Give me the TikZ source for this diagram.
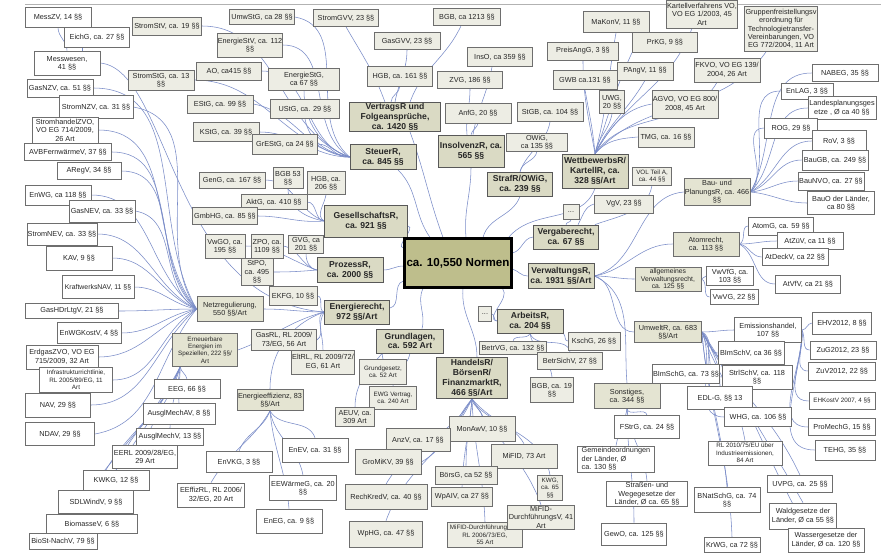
\documentclass[tikz,border=0pt]{standalone}
\usepackage{fontspec}
\setmainfont{Liberation Sans}
\pgfdeclarelayer{bg}
\pgfsetlayers{bg,main}
\definecolor{bordc}{RGB}{110,110,110}
\definecolor{lightc}{RGB}{237,237,228}
\definecolor{secc}{RGB}{228,228,210}
\definecolor{mainc}{RGB}{218,218,196}
\definecolor{rootc}{RGB}{190,190,140}
\definecolor{linkc}{RGB}{122,140,200}
\tikzset{
 base/.style={draw=bordc, line width=0.7pt, inner sep=0.4pt, align=center, font=\fontsize{7.3}{8.4}\selectfont, text=black!85},
 wb/.style={base, fill=white},
 lb/.style={base, fill=lightc},
 sc/.style={base, fill=secc},
 mc/.style={base, fill=mainc, draw=bordc!80!black, font=\fontsize{8.6}{9.8}\selectfont\bfseries},
 rootst/.style={draw=black, line width=2.2pt, fill=rootc, font=\fontsize{11.6}{13}\selectfont\bfseries, inner sep=0pt},
 link/.style={draw=linkc, line width=0.55pt},
 sm/.style={font=\fontsize{6.3}{7.4}\selectfont},
}
\newcommand{\nd}[7]{\node[#6,minimum width=#4pt,minimum height=#5pt] (#1) at (#2,#3) {#7};}
\begin{document}
\begin{tikzpicture}[x=1pt,y=-1pt]
\useasboundingbox (0,0) rectangle (881,555);
% ---------- Energie (left)
\nd{messzv}{58}{17}{66}{20}{wb}{MessZV, 14 §§}
\nd{eichg}{97}{37}{65}{20}{wb}{EichG, ca. 27 §§}
\nd{messw}{67}{63}{66}{24}{wb}{Messwesen,\\41 §§}
\nd{gasnzv}{60}{88}{66}{18}{wb}{GasNZV, ca. 51 §§}
\nd{stromnzv}{96}{107}{74}{23}{wb}{StromNZV, ca. 31 §§}
\nd{shzvo}{65}{130}{66}{26}{wb}{StromhandelZVO,\\VO EG 714/2009,\\26 Art}
\nd{avb}{68}{152}{87}{17}{wb}{AVBFernwärmeV, 37 §§}
\nd{aregv}{89}{171}{64}{17}{wb}{ARegV, 34 §§}
\nd{enwg}{58}{195}{66}{20}{wb}{EnWG, ca 118 §§}
\nd{gasnev}{102}{211}{66}{22}{wb}{GasNEV, ca. 33 §§}
\nd{stromnev}{62}{234}{70}{22}{wb}{StromNEV, ca. 33 §§}
\nd{kav}{79}{258}{66}{24}{wb}{KAV, 9 §§}
\nd{kwnav}{98}{287}{72}{23}{wb,font=\fontsize{6.9}{8}\selectfont}{KraftwerksNAV, 11 §§}
\nd{gashdr}{72}{311}{93}{15}{wb}{GasHDrLtgV, 21 §§}
\nd{enwgk}{89}{333}{64}{21}{wb}{EnWGKostV, 4 §§}
\nd{erdgas}{62}{357}{72}{24}{wb}{ErdgasZVO, VO EG\\715/2009, 32 Art}
\nd{infra}{76}{380}{73}{25}{wb,sm}{Infrastrukturrichtlinie,\\RL 2005/89/EG, 11\\Art}
\nd{nav}{58}{405}{65}{24}{wb}{NAV, 29 §§}
\nd{ndav}{60}{434}{69}{23}{wb}{NDAV, 29 §§}
\nd{eeg}{187}{389}{66}{19}{wb}{EEG, 66 §§}
\nd{amav}{179}{414}{72}{21}{wb}{AusglMechAV, 8 §§}
\nd{amv}{170}{437}{67}{17}{wb}{AusglMechV, 13 §§}
\nd{eerl}{145}{457}{65}{23}{wb}{EERL 2009/28/EG,\\29 Art}
\nd{kwkg}{116}{480}{66}{20}{wb}{KWKG, 12 §§}
\nd{sdl}{96}{502}{75}{23}{wb}{SDLWindV, 9 §§}
\nd{bio}{92}{524}{91}{19}{wb}{BiomasseV, 6 §§}
\nd{biost}{63}{541}{68}{16}{wb}{BioSt-NachV, 79 §§}
\nd{netz}{230}{309}{66}{25}{sc}{Netzregulierung,\\550 §§/Art}
\nd{ee}{205}{350}{65}{33}{sc,sm}{Erneuerbare\\Energien im\\Speziellen, 222 §§/\\Art}
\nd{eeff}{270}{400}{66}{21}{sc}{Energieeffizienz, 83\\§§/Art}
\nd{envkg}{239}{462}{66}{21}{wb}{EnVKG, 3 §§}
\nd{enev}{315}{450}{66}{24}{wb}{EnEV, ca. 31 §§}
\nd{eew}{303}{488}{67}{25}{wb}{EEWärmeG, ca. 20\\§§}
\nd{eeffrl}{211}{495}{67}{24}{wb}{EEffizRL, RL 2006/\\32/EG, 20 Art}
\nd{eneg}{289}{521}{66}{24}{wb}{EnEG, ca. 9 §§}
% ---------- Steuer
\nd{stromstv}{167}{26}{69}{18}{lb}{StromStV, ca. 19 §§}
\nd{umwstg}{262}{17}{65}{15}{lb}{UmwStG, ca 28 §§}
\nd{energiestv}{250}{45}{63}{24}{lb}{EnergieStV, ca. 112\\§§}
\nd{ao}{229}{71}{65}{18}{lb}{AO, ca415 §§}
\nd{stromstg}{161}{80}{66}{20}{lb}{StromStG, ca. 13\\§§}
\nd{energiestg}{304}{79}{71}{22}{lb}{EnergieStG,\\ca 67 §§}
\nd{estg}{220}{104}{66}{18}{lb}{EStG, ca. 99 §§}
\nd{ustg}{305}{109}{69}{19}{lb}{UStG, ca. 29 §§}
\nd{kstg}{226}{132}{66}{19}{lb}{KStG, ca. 39 §§}
\nd{grestg}{285}{144}{65}{20}{lb}{GrEStG, ca 24 §§}
\nd{steuer}{383}{157}{66}{25}{mc}{SteuerR,\\ca. 845 §§}
% ---------- Vertrag
\nd{stromgvv}{346}{18}{65}{17}{lb}{StromGVV, 23 §§}
\nd{gasgvv}{407}{41}{66}{17}{lb}{GasGVV, 23 §§}
\nd{hgbA}{400}{76}{65}{20}{lb}{HGB, ca. 161 §§}
\nd{bgbA}{467}{17}{67}{17}{lb}{BGB, ca 1213 §§}
\nd{vertrag}{395}{117}{91}{29}{mc}{VertragsR und\\Folgeansprüche,\\ca. 1420 §§}
% ---------- Insolvenz / Straf
\nd{zvg}{470}{80}{65}{17}{lb}{ZVG, 186 §§}
\nd{inso}{500}{57}{65}{19}{lb}{InsO, ca 359 §§}
\nd{anfg}{478}{113}{66}{20}{lb}{AnfG, 20 §§}
\nd{insolvenz}{471}{151}{66}{32}{mc}{InsolvenzR, ca.\\565 §§}
\nd{stgb}{550}{112}{66}{19}{lb}{StGB, ca. 104 §§}
\nd{owig}{537}{142}{61}{18}{lb}{OWiG,\\ca 135 §§}
\nd{straf}{520}{184}{65}{24}{mc}{StrafR/OWiG,\\ca. 239 §§}
% ---------- Wettbewerb
\nd{preisang}{583}{51}{71}{18}{lb}{PreisAngG, 3 §§}
\nd{makonv}{616}{22}{66}{21}{lb}{MaKonV, 11 §§}
\nd{prkg}{665}{42}{65}{20}{lb}{PrKG, 9 §§}
\nd{gwb}{585}{80}{64}{19}{lb}{GWB ca.131 §§}
\nd{pangv}{645}{71}{56}{18}{lb}{PAngV, 11 §§}
\nd{uwg}{612}{102}{25}{23}{lb}{UWG,\\20 §§}
\nd{agvo}{685}{104}{66}{28}{lb}{AGVO, VO EG 800/\\2008, 45 Art}
\nd{tmg}{666}{137}{56}{20}{lb}{TMG, ca. 16 §§}
\nd{wettb}{595}{171}{66}{34}{mc}{WettbewerbsR/\\KartellR, ca.\\328 §§/Art}
\nd{vol}{652}{176}{39}{18}{lb,sm}{VOL Teil A,\\ca. 44 §§}
\nd{kvo}{702}{14}{70}{28}{lb}{Kartellverfahrens VO,\\VO EG 1/2003, 45\\Art}
\nd{gfvo}{781}{29}{73}{45}{lb}{Gruppenfreistellungsv\\erordnung für\\Technologietransfer-\\Vereinbarungen, VO\\EG 772/2004, 11 Art}
\nd{fkvo}{727}{70}{66}{24}{lb}{FKVO, VO EG 139/\\2004, 26 Art}
% ---------- Bau
\nd{nabeg}{845}{73}{66}{17}{wb}{NABEG, 35 §§}
\nd{enlag}{807}{91}{52}{16}{wb}{EnLAG, 3 §§}
\nd{landes}{842}{108}{68}{23}{wb}{Landesplanungsges\\etze , Ø ca 40 §§}
\nd{rog}{791}{128}{53}{20}{wb}{ROG, 29 §§}
\nd{rov}{839}{141}{54}{21}{wb}{RoV, 3 §§}
\nd{baugb}{835}{160}{66}{20}{wb}{BauGB, ca. 249 §§}
\nd{baunvo}{831}{181}{66}{18}{wb}{BauNVO, ca. 27 §§}
\nd{bauo}{841}{203}{67}{23}{wb}{BauO der Länder,\\ca 80 §§}
\nd{bau}{717}{192}{66}{27}{sc}{Bau- und\\PlanungsR, ca. 466\\§§}
% ---------- Atom
\nd{atomg}{781}{226}{65}{18}{wb}{AtomG, ca. 59 §§}
\nd{atzuv}{810}{241}{66}{17}{wb}{AtZüV, ca 11 §§}
\nd{atdeckv}{795}{257}{66}{17}{wb}{AtDeckV, ca 22 §§}
\nd{atvfv}{808}{284}{65}{18}{wb}{AtVfV, ca 21 §§}
\nd{atom}{706}{244}{66}{24}{sc}{Atomrecht,\\ca. 113 §§}
% ---------- Vergabe / Verwaltung
\nd{vgv}{624}{204}{59}{18}{lb}{VgV, 23 §§}
\nd{dotsA}{571}{212}{16}{15}{lb}{...}
\nd{vergabe}{566}{237}{65}{24}{mc}{Vergaberecht,\\ca. 67 §§}
\nd{verwalt}{561}{276}{66}{25}{mc}{VerwaltungsR,\\ca. 1931 §§/Art}
\nd{allg}{668}{279}{66}{24}{sc,font=\fontsize{6.8}{7.6}\selectfont}{allgemeines\\Verwaltungsrecht,\\ca. 125 §§}
\nd{vwvfg}{730}{276}{47}{19}{wb}{VwVfG, ca.\\103 §§}
\nd{vwvg}{734}{297}{48}{15}{wb}{VwVG, 22 §§}
% ---------- Umwelt
\nd{umwelt}{668}{332}{67}{21}{sc}{UmweltR, ca. 683\\§§/Art}
\nd{emiss}{768}{330}{67}{25}{wb}{Emissionshandel,\\107 §§}
\nd{ehv}{842}{323}{59}{22}{wb}{EHV2012, 8 §§}
\nd{zug}{843}{350}{66}{18}{wb}{ZuG2012, 23 §§}
\nd{zuv}{842}{371}{67}{18}{wb}{ZuV2012, 22 §§}
\nd{ehkost}{842}{401}{66}{17}{wb,sm}{EHKostV 2007, 4 §§}
\nd{promech}{842}{427}{67}{17}{wb}{ProMechG, 15 §§}
\nd{tehg}{845}{450}{60}{20}{wb}{TEHG, 35 §§}
\nd{bimschv}{751}{353}{66}{23}{wb}{BImSchV, ca 36 §§}
\nd{bimschg}{686}{374}{66}{19}{wb}{BImSchG, ca. 73 §§}
\nd{strlschv}{757}{377}{70}{24}{wb}{StrlSchV, ca. 118\\§§}
\nd{edlg}{720}{398}{65}{23}{wb}{EDL-G, §§ 13}
\nd{whg}{758}{417}{67}{19}{wb}{WHG, ca. 106 §§}
\nd{rlindu}{745}{453}{74}{24}{wb,sm}{RL 2010/75/EU über\\Industrieemissionen,\\84 Art}
\nd{uvpg}{800}{484}{65}{17}{wb}{UVPG, ca. 25 §§}
\nd{bnat}{727}{500}{66}{25}{wb}{BNatSchG, ca. 74\\§§}
\nd{wald}{803}{516}{67}{26}{wb}{Waldgesetze der\\Länder, Ø ca 55 §§}
\nd{krwg}{732}{545}{56}{15}{wb}{KrWG, ca 72 §§}
\nd{wasser}{826}{540}{76}{24}{wb}{Wassergesetze der\\Länder, Ø ca. 120 §§}
% ---------- Sonstiges
\nd{sonst}{627}{396}{66}{25}{sc}{Sonstiges,\\ca. 344 §§}
\nd{fstrg}{647}{427}{65}{23}{wb}{FStrG, ca. 24 §§}
\node[wb,align=left,minimum width=77pt,minimum height=26pt] (gemeinde) at (616,459) {Gemeindeordnungen\\der Länder, Ø\\ca. 130 §§};
\nd{strassen}{647}{494}{81}{25}{wb}{Straßen- und\\Wegegesetze der\\Länder, Ø ca. 65 §§}
\nd{gewo}{634}{534}{65}{22}{wb}{GewO, ca. 125 §§}
% ---------- Arbeit
\nd{dotsB}{485}{314}{13}{15}{lb}{...}
\nd{arbeit}{530}{321}{66}{24}{mc}{ArbeitsR,\\ca. 204 §§}
\nd{kschg}{594}{341}{52}{18}{lb}{KschG, 26 §§}
\nd{betrvg}{513}{348}{67}{13}{lb}{BetrVG, ca. 132 §§}
\nd{betrsich}{570}{361}{65}{17}{lb}{BetrSichV, 27 §§}
\nd{bgbC}{552}{390}{43}{25}{lb}{BGB, ca. 19\\§§}
% ---------- Handel
\nd{handels}{472}{378}{71}{41}{mc}{HandelsR/\\BörsenR/\\FinanzmarktR,\\466 §§/Art}
\nd{monawv}{482}{429}{66}{25}{lb}{MonAwV, 10 §§}
\nd{mifid}{524}{456}{66}{24}{lb}{MiFID, 73 Art}
\nd{kwg}{550}{488}{25}{25}{lb,sm}{KWG,\\ca. 65\\§§}
\nd{borsg}{466}{475}{62}{18}{lb}{BörsG, ca 52 §§}
\nd{wpaiv}{462}{497}{61}{19}{lb}{WpAIV, ca 27 §§}
\nd{mifidrl}{485}{535}{75}{25}{lb,sm}{MiFID-DurchführungsRL,\\RL 2006/73/EG,\\55 Art}
\nd{mifidv}{541}{517}{67}{24}{lb}{MiFID-\\DurchführungsV, 41\\Art}
\nd{anzv}{418}{440}{64}{23}{lb}{AnzV, ca. 17 §§}
\nd{gromikv}{388}{462}{66}{25}{lb}{GroMiKV, 39 §§}
\nd{rechkred}{386}{497}{82}{25}{lb}{RechKredV, ca. 40 §§}
\nd{wphg}{386}{534}{73}{26}{lb}{WpHG, ca. 47 §§}
% ---------- Grundlagen
\nd{grundl}{410}{341}{67}{24}{mc}{Grundlagen,\\ca. 592 Art}
\nd{gg}{383}{372}{47}{25}{lb,sm}{Grundgesetz,\\ca. 52 Art}
\nd{ewg}{393}{398}{47}{23}{lb,sm}{EWG Vertrag,\\ca. 240 Art}
\nd{aeuv}{355}{417}{39}{19}{lb}{AEUV, ca.\\309 Art}
% ---------- Energierecht
\nd{energie}{357}{312}{65}{24}{mc}{Energierecht,\\972 §§/Art}
\nd{ekfg}{293}{296}{48}{19}{lb}{EKFG, 10 §§}
\nd{gasrl}{284}{340}{65}{21}{lb}{GasRL, RL 2009/\\73/EG, 56 Art}
\nd{eltrl}{323}{362}{63}{24}{lb}{EltRL, RL 2009/72/\\EG, 61 Art}
% ---------- Gesellschaft / Prozess
\nd{geng}{232}{180}{66}{16}{lb}{GenG, ca. 167 §§}
\nd{bgbB}{288}{178}{30}{21}{lb}{BGB 53\\§§}
\nd{hgbB}{326}{183}{38}{23}{lb}{HGB, ca.\\206 §§}
\nd{aktg}{274}{202}{66}{15}{lb}{AktG, ca. 410 §§}
\nd{gmbhg}{225}{216}{65}{17}{lb}{GmbHG, ca. 85 §§}
\nd{gesell}{366}{221}{83}{32}{mc}{GesellschaftsR,\\ca. 921 §§}
\nd{vwgo}{225}{246}{40}{24}{lb}{VwGO, ca.\\195 §§}
\nd{zpo}{267}{246}{32}{24}{lb}{ZPO, ca.\\1109 §§}
\nd{gvg}{306}{244}{35}{18}{lb}{GVG, ca\\201 §§}
\nd{stpo}{257}{272}{32}{27}{lb}{StPO,\\ca. 495\\§§}
\nd{prozess}{350}{270}{66}{25}{mc}{ProzessR,\\ca. 2000 §§}
% ---------- root
\node[rootst,minimum width=107pt,minimum height=49pt] (root) at (458,263) {ca. 10,550 Normen};
% ================= connectors
\begin{pgfonlayer}{bg}
\fill[white] (0,0) rectangle (881,555);
\draw[black!30, line width=0.6pt] (25,4) -- (881,4);
% root
\draw[link] ([xshift=-15pt]root.north) to[out=110,in=-70] ([xshift=15pt]vertrag.south);
\draw[link] ([xshift=-28pt]root.north) to[out=125,in=-45] ([xshift=15pt]steuer.south);
\draw[link] ([xshift=8pt]root.north) to[out=95,in=-90] (insolvenz.south);
\draw[link] ([xshift=25pt]root.north) to[out=75,in=-110] (straf.south);
\draw[link] ([xshift=-4pt]root.north east) to[out=50,in=-110] (wettb.south);
\draw[link] ([yshift=10pt]root.east) to[out=15,in=185] (vergabe.west);
\draw[link] ([yshift=-6pt]root.east) to[out=-20,in=180] (verwalt.west);
\draw[link] ([xshift=-10pt]root.south east) to[out=-50,in=165] (arbeit.west);
\draw[link] ([xshift=5pt]root.south) to[out=-95,in=90] ([xshift=5pt]handels.north);
\draw[link] ([xshift=-35pt]root.south) to[out=-115,in=75] ([xshift=12pt]grundl.north);
\draw[link] ([yshift=-18pt]root.west) to[out=195,in=10] ([yshift=4pt]energie.east);
\draw[link] ([yshift=-3pt]root.west) to[out=180,in=0] (prozess.east);
\draw[link] ([yshift=15pt]root.west) to[out=170,in=-10] ([yshift=-5pt]gesell.east);
% Steuer
\draw[link] (stromstv.east) to[out=0,in=160] (steuer.west);
\draw[link] (umwstg.east) to[out=-10,in=140] (steuer.west);
\draw[link] (energiestv.east) to[out=0,in=150] (steuer.west);
\draw[link] (ao.east) to[out=0,in=165] (steuer.west);
\draw[link] (stromstg.east) to[out=0,in=170] (steuer.west);
\draw[link] (energiestg.south) to[out=-90,in=160] (steuer.west);
\draw[link] (ustg.south) to[out=-80,in=170] (steuer.west);
\draw[link] (estg.east) to[out=-10,in=175] (steuer.west);
\draw[link] (kstg.east) to[out=0,in=180] (steuer.west);
\draw[link] (grestg.east) to[out=0,in=190] (steuer.west);
% Vertrag
\draw[link] (stromgvv.south) to[out=-60,in=110] ([xshift=-10pt]vertrag.north);
\draw[link] (gasgvv.south) to[out=-90,in=80] (vertrag.north);
\draw[link] (hgbA.south) to[out=-95,in=90] ([xshift=-4pt]vertrag.north);
\draw[link] ([xshift=-6pt]bgbA.south) to[out=-115,in=70] ([xshift=15pt]vertrag.north);
% Insolvenz, Straf
\draw[link] (zvg.south) to[out=-90,in=95] ([xshift=-4pt]insolvenz.north);
\draw[link] ([xshift=-8pt]inso.south) to[out=-100,in=80] ([xshift=2pt]insolvenz.north);
\draw[link] (anfg.south) to[out=-100,in=80] (insolvenz.north);
\draw[link] (stgb.south) to[out=-100,in=70] (straf.north);
\draw[link] (owig.south) to[out=-100,in=80] (straf.north);
% Wettbewerb
\draw[link] (gwb.south) to[out=-80,in=95] (wettb.north);
\draw[link] (preisang.south) to[out=-90,in=100] (wettb.north);
\draw[link] (makonv.south) to[out=-100,in=75] (wettb.north);
\draw[link] (prkg.south west) to[out=-115,in=70] (wettb.north);
\draw[link] (pangv.south) to[out=-120,in=65] (wettb.north);
\draw[link] (uwg.south) to[out=-100,in=80] (wettb.north);
\draw[link] (agvo.west) to[out=190,in=60] (wettb.north);
\draw[link] (tmg.west) to[out=185,in=50] (wettb.north);
\draw[link] ([xshift=-10pt]kvo.south) to[out=-110,in=62] (wettb.north);
\draw[link] ([xshift=-10pt]fkvo.south) to[out=-120,in=55] (wettb.north);
\draw[link] ([xshift=-15pt]gfvo.south) to[out=-125,in=48] (wettb.north);
% Vergabe
\draw[link] (vol.south) to[out=-100,in=20] ([xshift=-4pt]vergabe.north east);
\draw[link] (vgv.west) to[out=195,in=60] ([xshift=12pt]vergabe.north);
\draw[link] (dotsA.south) to[out=-90,in=90] (vergabe.north);
% Verwaltung
\draw[link] (verwalt.east) to[out=15,in=185] (bau.west);
\draw[link] (verwalt.east) to[out=10,in=180] (atom.west);
\draw[link] (verwalt.east) to[out=0,in=180] (allg.west);
\draw[link] (verwalt.east) to[out=-15,in=180] (umwelt.west);
\draw[link] (verwalt.east) to[out=-25,in=95] (sonst.north);
% Bau
\draw[link] (bau.east) to[out=60,in=180] (nabeg.west);
\draw[link] (bau.east) to[out=55,in=180] (enlag.west);
\draw[link] (bau.east) to[out=45,in=180] (landes.west);
\draw[link] (bau.east) to[out=40,in=180] (rog.west);
\draw[link] (bau.east) to[out=30,in=180] (rov.west);
\draw[link] (bau.east) to[out=20,in=180] (baugb.west);
\draw[link] (bau.east) to[out=5,in=180] (baunvo.west);
\draw[link] (bau.east) to[out=-5,in=180] (bauo.west);
% Atom
\draw[link] (atom.east) to[out=20,in=180] (atomg.west);
\draw[link] (atom.east) to[out=0,in=180] (atzuv.west);
\draw[link] (atom.east) to[out=-10,in=180] (atdeckv.west);
\draw[link] (atom.east) to[out=-30,in=180] (atvfv.west);
% allg
\draw[link] (allg.east) to[out=0,in=180] (vwvfg.west);
\draw[link] (allg.east) to[out=-20,in=180] (vwvg.west);
% Umwelt
\draw[link] (umwelt.east) to[out=0,in=180] (emiss.west);
\draw[link] (umwelt.east) to[out=-20,in=180] (bimschv.west);
\draw[link] (umwelt.east) to[out=-40,in=90] ([xshift=22pt]bimschg.north);
\draw[link] (umwelt.east) to[out=-45,in=180] (strlschv.west);
\draw[link] (umwelt.east) to[out=-60,in=90] (edlg.north);
\draw[link] (umwelt.east) to[out=-65,in=180] (whg.west);
\draw[link] (umwelt.east) to[out=-70,in=100] (rlindu.north);
\draw[link] (umwelt.east) to[out=-60,in=115] (uvpg.north);
\draw[link] (umwelt.east) to[out=-85,in=95] (bnat.north);
\draw[link] (umwelt.east) to[out=-60,in=120] (wald.north);
\draw[link] (umwelt.east) to[out=-85,in=92] (krwg.north);
\draw[link] (umwelt.east) to[out=-55,in=120] ([xshift=-20pt]wasser.north);
% Emissionshandel
\draw[link] (emiss.east) to[out=0,in=180] (ehv.west);
\draw[link] (emiss.east) to[out=-60,in=180] (zug.west);
\draw[link] (emiss.east) to[out=-80,in=180] (zuv.west);
\draw[link] (emiss.east) to[out=-85,in=180] (ehkost.west);
\draw[link] (emiss.east) to[out=-88,in=180] (promech.west);
\draw[link] (emiss.east) to[out=-90,in=180] (tehg.west);
% Sonstiges
\draw[link] (sonst.south) to[out=-80,in=100] (fstrg.north);
\draw[link] (sonst.south) to[out=-100,in=80] (gemeinde.north);
\draw[link] (sonst.south) to[out=-85,in=95] (strassen.north);
\draw[link] (sonst.south) to[out=-90,in=90] (gewo.north);
% Arbeit
\draw[link] (arbeit.west) to[out=180,in=0] (dotsB.east);
\draw[link] (arbeit.south) to[out=-110,in=80] (betrvg.north);
\draw[link] (arbeit.south east) to[out=-40,in=180] (kschg.west);
\draw[link] (arbeit.south) to[out=-70,in=100] (betrsich.north);
\draw[link] (arbeit.south) to[out=-80,in=95] (bgbC.north);
% Handel
\draw[link] (handels.south) to[out=-85,in=95] (monawv.north);
\draw[link] (handels.south) to[out=-60,in=120] (mifid.north);
\draw[link] (handels.south) to[out=-50,in=100] (kwg.north);
\draw[link] (handels.south) to[out=-60,in=110] (mifidv.north);
\draw[link] (handels.south) to[out=-95,in=90] (borsg.north);
\draw[link] (handels.south) to[out=-95,in=88] (wpaiv.north);
\draw[link] (handels.south) to[out=-88,in=92] (mifidrl.north);
\draw[link] (handels.south) to[out=-125,in=40] (anzv.north east);
\draw[link] (handels.south) to[out=-130,in=30] (gromikv.east);
\draw[link] (handels.south) to[out=-120,in=60] (rechkred.north);
\draw[link] (handels.south) to[out=-115,in=70] (wphg.north);
% Grundlagen
\draw[link] ([xshift=6pt]grundl.south west) to[out=-110,in=80] (gg.north);
\draw[link] (grundl.south) to[out=-100,in=90] (ewg.north);
\draw[link] ([xshift=6pt]grundl.south west) to[out=-130,in=90] (aeuv.north);
% Energierecht
\draw[link] (energie.west) to[out=180,in=0] (netz.east);
\draw[link] (energie.west) to[out=195,in=20] (ee.east);
\draw[link] (energie.west) to[out=200,in=90] (eeff.north);
\draw[link] (energie.west) to[out=170,in=0] (ekfg.east);
\draw[link] (energie.west) to[out=200,in=30] (gasrl.east);
\draw[link] (energie.west) to[out=-120,in=90] (eltrl.north);
\draw[link] (messw.east) .. controls (170,70) and (170,300) .. (energie.west);
% Messwesen
\draw[link] (messzv.south) to[out=-90,in=90] (messw.north);
\draw[link] ([xshift=-15pt]eichg.south) to[out=-100,in=60] ([xshift=15pt]messw.north);
% Netz
\draw[link] (gasnzv.east) to[out=0,in=120] (netz.west);
\draw[link] (stromnzv.east) to[out=-10,in=125] (netz.west);
\draw[link] (shzvo.east) to[out=0,in=130] (netz.west);
\draw[link] (avb.east) to[out=0,in=135] (netz.west);
\draw[link] (aregv.east) to[out=0,in=140] (netz.west);
\draw[link] (enwg.east) to[out=0,in=145] (netz.west);
\draw[link] (gasnev.east) to[out=-10,in=150] (netz.west);
\draw[link] (stromnev.east) to[out=0,in=155] (netz.west);
\draw[link] (kav.east) to[out=0,in=160] (netz.west);
\draw[link] (kwnav.east) to[out=0,in=170] (netz.west);
\draw[link] (gashdr.east) to[out=0,in=180] (netz.west);
\draw[link] (enwgk.east) to[out=0,in=190] (netz.west);
\draw[link] (erdgas.east) to[out=0,in=200] (netz.west);
\draw[link] (infra.east) to[out=0,in=210] (netz.west);
\draw[link] (nav.east) to[out=0,in=220] (netz.west);
\draw[link] (ndav.east) to[out=10,in=230] (netz.west);
% Erneuerbare
\draw[link] ([xshift=8pt]ee.south west) to[out=-80,in=100] (eeg.north);
\draw[link] ([xshift=8pt]ee.south west) to[out=-90,in=95] (amav.north);
\draw[link] ([xshift=8pt]ee.south west) to[out=-95,in=90] (amv.north);
\draw[link] ([xshift=8pt]ee.south west) to[out=-105,in=75] (eerl.north);
\draw[link] ([xshift=8pt]ee.south west) to[out=-110,in=70] (kwkg.north);
\draw[link] ([xshift=8pt]ee.south west) to[out=-112,in=68] (sdl.north);
\draw[link] ([xshift=8pt]ee.south west) to[out=-115,in=65] (bio.north);
\draw[link] ([xshift=8pt]ee.south west) to[out=-118,in=62] (biost.north);
% Energieeffizienz
\draw[link] (eeff.south) to[out=-110,in=70] (envkg.north);
\draw[link] (eeff.south) to[out=-60,in=110] (enev.north);
\draw[link] (eeff.south) to[out=-80,in=100] (eew.north);
\draw[link] (eeff.south) to[out=-120,in=60] (eeffrl.north);
\draw[link] (eeff.south) to[out=-85,in=95] (eneg.north);
% Gesellschaft
\draw[link] (geng.east) to[out=0,in=160] (gesell.west);
\draw[link] (bgbB.south) to[out=-90,in=170] (gesell.west);
\draw[link] (hgbB.south) to[out=-100,in=150] (gesell.west);
\draw[link] (aktg.east) to[out=0,in=175] (gesell.west);
\draw[link] (gmbhg.east) to[out=0,in=185] (gesell.west);
% Prozess
\draw[link] (vwgo.east) to[out=0,in=160] (prozess.west);
\draw[link] (zpo.east) to[out=-10,in=165] (prozess.west);
\draw[link] (gvg.south) to[out=-90,in=170] (prozess.west);
\draw[link] (stpo.east) to[out=0,in=185] (prozess.west);
\end{pgfonlayer}
\end{tikzpicture}
\end{document}
